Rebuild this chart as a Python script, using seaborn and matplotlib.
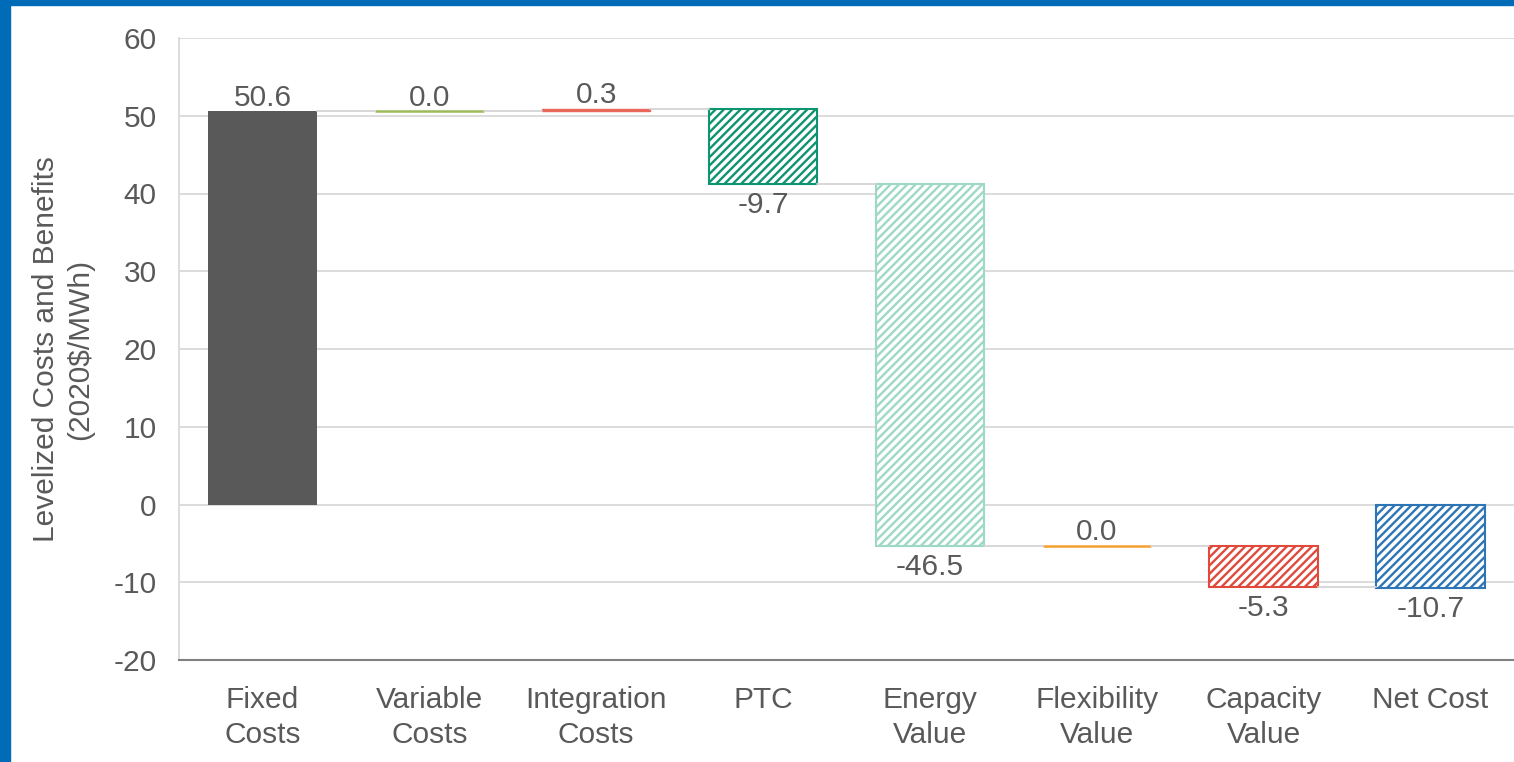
import numpy as np
import pandas as pd
import matplotlib
matplotlib.use("Agg")
import matplotlib.pyplot as plt
from matplotlib.patches import Rectangle
import seaborn as sns

# ---- data ----
categories = ["Fixed\nCosts", "Variable\nCosts", "Integration\nCosts", "PTC",
              "Energy\nValue", "Flexibility\nValue", "Capacity\nValue", "Net Cost"]
values = [50.6, 0.0, 0.3, -9.7, -46.5, 0.0, -5.3, -10.7]
is_total = [False, False, False, False, False, False, False, True]
bar_colors = ["#595959", "#9bbb59", "#e8675a", "#0e9470",
              "#9dd9c5", "#f2a030", "#e04a3c", "#2e75b6"]
hatches = [None, None, None, "////", "////", None, "////", "////"]
y_ticks = [-20, -10, 0, 10, 20, 30, 40, 50, 60]

# waterfall bases
bottoms = []
running = 0.0
for v, tot in zip(values, is_total):
    if tot:
        bottoms.append(0.0)
    else:
        bottoms.append(running)
        running += v
ends = [b + v for b, v in zip(bottoms, values)]

TEXT = "#595959"
FS = 21.5

sns.set_theme(style="white")
plt.rcParams['font.family'] = ['Liberation Sans', 'DejaVu Sans']
plt.rcParams['hatch.linewidth'] = 1.7

fig = plt.figure(figsize=(15.14, 7.62), dpi=100)
W, H = 1514, 762
ax = fig.add_axes([179 / W, 1 - 660 / H, 1 - 179 / W, (660 - 38) / H])

df = pd.DataFrame({"category": categories, "value": values})
BW = 0.65
sns.barplot(data=df, x="category", y="value", order=categories, errorbar=None,
            width=BW, bottom=bottoms, ax=ax, color="#595959", saturation=1)

bars = ax.containers[0]
for i, bar in enumerate(bars):
    c = bar_colors[i]
    if hatches[i]:
        bar.set_facecolor("white")
        bar.set_edgecolor(c)
        bar.set_hatch(hatches[i])
        bar.set_linewidth(1.5)
    elif values[i] == 0:
        bar.set_facecolor(c)
        bar.set_edgecolor(c)
        bar.set_linewidth(1.8)
    elif i == 0:
        bar.set_facecolor(c)
        bar.set_edgecolor("none")
        bar.set_linewidth(0)
    else:
        bar.set_facecolor(c)
        bar.set_edgecolor(c)
        bar.set_linewidth(1.0)

# connectors
for i in range(len(values) - 1):
    lvl = ends[i]
    ax.plot([i + BW / 2, i + 1 - BW / 2], [lvl, lvl], color="#d4d4d4", lw=1.3, zorder=1)

# data labels
for i, (b, e, v) in enumerate(zip(bottoms, ends, values)):
    if v >= 0:
        ax.annotate(f"{v:.1f}", (i, max(b, e)), xytext=(0, 4), textcoords="offset points",
                    ha="center", va="baseline", fontsize=FS, color=TEXT)
    else:
        ax.annotate(f"{v:.1f}", (i, min(b, e)), xytext=(0, -5), textcoords="offset points",
                    ha="center", va="top", fontsize=FS, color=TEXT)

ax.set_xlim(-0.5, len(values) - 0.5)
ax.set_ylim(-20, 60)
ax.set_yticks(y_ticks)
ax.set_yticklabels([str(t) for t in y_ticks])
ax.set_axisbelow(True)
ax.yaxis.grid(True, color="#d9d9d9", lw=1.3)
ax.xaxis.grid(False)
for s in ["top", "right"]:
    ax.spines[s].set_visible(False)
ax.spines["left"].set_color("#d9d9d9")
ax.spines["left"].set_linewidth(1.3)
ax.spines["bottom"].set_color("#808080")
ax.spines["bottom"].set_linewidth(1.5)
ax.spines["bottom"].set_zorder(3)

ax.tick_params(axis="both", length=0, labelsize=FS, labelcolor=TEXT)
ax.tick_params(axis="y", pad=16)
ax.tick_params(axis="x", pad=19)
for lbl in ax.get_xticklabels():
    lbl.set_linespacing(1.28)

ax.set_xlabel("")
ax.set_ylabel("Levelized Costs and Benefits\n(2020$/MWh)", fontsize=FS, color=TEXT,
              labelpad=14, linespacing=1.3)

# blue frame
fig.add_artist(Rectangle((0, 1 - 5 / H), 1, 5 / H, transform=fig.transFigure,
                         color="#006bb6", zorder=10))
fig.add_artist(Rectangle((0, 0), 10 / W, 1, transform=fig.transFigure,
                         color="#006bb6", zorder=10))

fig.savefig("out.png", dpi=100)
